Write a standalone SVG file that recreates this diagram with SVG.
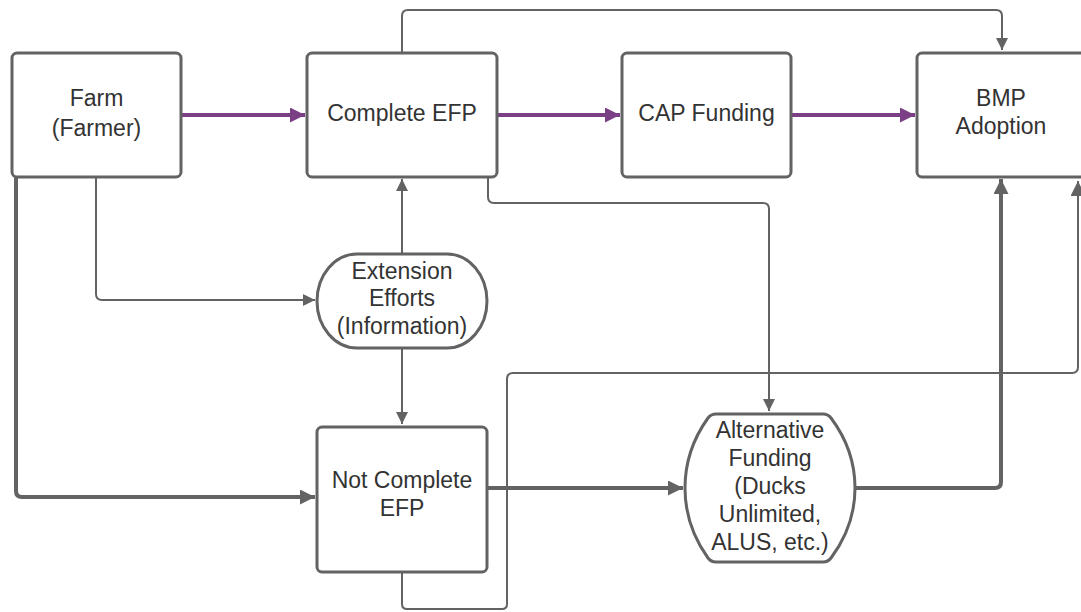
<svg xmlns="http://www.w3.org/2000/svg" width="1081" height="612" viewBox="0 0 1081 612">
  <defs>
    <style>
      .box { fill: #ffffff; stroke: #636363; stroke-width: 3; }
      .lbl { font-family: "Liberation Sans", Arial, sans-serif; font-size: 23px; fill: #333333; text-anchor: middle; }
      .thin { fill: none; stroke: #636363; stroke-width: 2; stroke-linejoin: round; }
      .thick { fill: none; stroke: #636363; stroke-width: 4; stroke-linejoin: round; }
      .main { fill: none; stroke: #7b3f86; stroke-width: 4; }
    </style>
    <marker id="ahGray" viewBox="0 0 10 10" refX="10" refY="5" markerWidth="16" markerHeight="12" markerUnits="userSpaceOnUse" orient="auto">
      <path d="M0,0 L10,5 L0,10 z" fill="#636363"/>
    </marker>
    <marker id="ahGrayBig" viewBox="0 0 10 10" refX="10" refY="5" markerWidth="22" markerHeight="15" markerUnits="userSpaceOnUse" orient="auto">
      <path d="M0,0 L10,5 L0,10 z" fill="#636363"/>
    </marker>
    <marker id="ahPurple" viewBox="0 0 10 10" refX="10" refY="5" markerWidth="22" markerHeight="15" markerUnits="userSpaceOnUse" orient="auto">
      <path d="M0,0 L10,5 L0,10 z" fill="#7b3f86"/>
    </marker>
  </defs>
  <rect width="1081" height="612" fill="#ffffff"/>

  <!-- connectors -->
  <g id="connectors">
    <!-- main purple path -->
    <line class="main" x1="182" y1="115" x2="305" y2="115" marker-end="url(#ahPurple)"/>
    <line class="main" x1="498" y1="115" x2="620" y2="115" marker-end="url(#ahPurple)"/>
    <line class="main" x1="792" y1="115" x2="915" y2="115" marker-end="url(#ahPurple)"/>
    <!-- Complete EFP over the top to BMP -->
    <path class="thin" d="M402,52 V16 Q402,10 408,10 H996 Q1002,10 1002,16 V50" marker-end="url(#ahGray)"/>
    <!-- Farm to Extension Efforts -->
    <path class="thin" d="M96,178 V294 Q96,300 102,300 H315" marker-end="url(#ahGray)"/>
    <!-- Extension Efforts up to Complete EFP, down to Not Complete EFP -->
    <line class="thin" x1="402" y1="254" x2="402" y2="179" marker-end="url(#ahGray)"/>
    <line class="thin" x1="402" y1="348" x2="402" y2="424" marker-end="url(#ahGray)"/>
    <!-- Complete EFP to Alternative Funding -->
    <path class="thin" d="M488,178 V197 Q488,203 494,203 H763 Q769,203 769,209 V411" marker-end="url(#ahGray)"/>
    <!-- Farm to Not Complete EFP -->
    <path class="thick" d="M16,178 V491 Q16,497 22,497 H315" marker-end="url(#ahGrayBig)"/>
    <!-- Not Complete EFP to Alternative Funding -->
    <line class="thick" x1="488" y1="488" x2="683" y2="488" marker-end="url(#ahGrayBig)"/>
    <!-- Alternative Funding to BMP Adoption -->
    <path class="thick" d="M855,488 H995 Q1001,488 1001,482 V179" marker-end="url(#ahGrayBig)"/>
    <!-- Not Complete EFP loop back to BMP Adoption -->
    <path class="thin" d="M402,573 V604 Q402,609 407,609 H502 Q507,609 507,604 V379 Q507,373 513,373 H1072 Q1078,373 1078,367 V181" marker-end="url(#ahGrayBig)"/>
  </g>

  <g id="farm">
    <rect class="box" x="12" y="53" width="169" height="124" rx="5"/>
    <text class="lbl" x="96.5" y="106">Farm</text>
    <text class="lbl" x="96.5" y="136">(Farmer)</text>
  </g>

  <g id="complete-efp">
    <rect class="box" x="307" y="53" width="190" height="124" rx="5"/>
    <text class="lbl" x="402" y="121">Complete EFP</text>
  </g>

  <g id="cap-funding">
    <rect class="box" x="622" y="53" width="169" height="124" rx="5"/>
    <text class="lbl" x="706.5" y="121">CAP Funding</text>
  </g>

  <g id="bmp-adoption">
    <rect class="box" x="917" y="53" width="170" height="124" rx="5"/>
    <text class="lbl" x="1001" y="106">BMP</text>
    <text class="lbl" x="1001" y="134">Adoption</text>
  </g>

  <g id="extension-efforts">
    <rect class="box" x="317" y="254" width="170" height="94" rx="40" ry="47"/>
    <text class="lbl" x="402" y="279">Extension</text>
    <text class="lbl" x="402" y="306">Efforts</text>
    <text class="lbl" x="402" y="334">(Information)</text>
  </g>

  <g id="not-complete-efp">
    <rect class="box" x="317" y="427" width="170" height="145" rx="5"/>
    <text class="lbl" x="402" y="488">Not Complete</text>
    <text class="lbl" x="402" y="516">EFP</text>
  </g>

  <g id="alternative-funding">
    <path class="box" d="M716,414 H823 Q828,414 831,418 Q855,450 855,488 Q855,526 831,558 Q828,562 823,562 H716 Q711,562 708,558 Q685,526 685,488 Q685,450 708,418 Q711,414 716,414 Z"/>
    <text class="lbl" x="770" y="438">Alternative</text>
    <text class="lbl" x="770" y="466">Funding</text>
    <text class="lbl" x="770" y="494">(Ducks</text>
    <text class="lbl" x="770" y="522">Unlimited,</text>
    <text class="lbl" x="770" y="550">ALUS, etc.)</text>
  </g>
</svg>
